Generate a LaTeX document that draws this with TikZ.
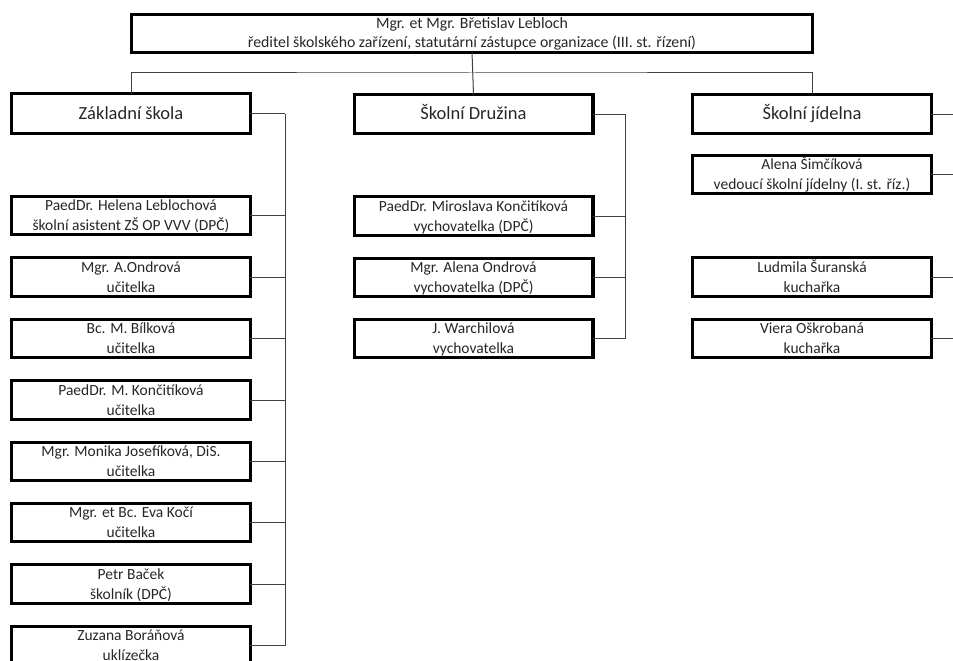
\documentclass[tikz,border=0pt]{standalone}
\usepackage{fontspec}
\setmainfont{Carlito}
\usepackage{tikz}
\tikzstyle{box}=[rectangle, draw=black, line width=3.2pt, minimum width=238.8pt, minimum height=38.5pt, inner sep=0pt, outer sep=0pt, align=center, text=black!85, text height=32pt, text depth=2pt, font=\fontsize{15.5}{20}\selectfont]
\tikzstyle{head}=[box, minimum height=39.5pt, text height=14pt, text depth=3pt, font=\fontsize{18.5}{22}\selectfont]
\tikzstyle{link}=[draw=black!75, line width=1pt]

\begin{document}
\begin{tikzpicture}[x=1pt, y=-1pt]
    \clip (0,0) rectangle (953,661);
    \node[box, minimum width=680.8pt, minimum height=37.8pt, text height=31pt, font=\fontsize{15.8}{19}\selectfont] (dir) at (472,33.5) {Mgr. et Mgr. Břetislav Lebloch\\ředitel školského zařízení, statutární zástupce organizace (III. st. řízení)};
    \node[head] (zs) at (131,113.5) {Základní škola};
    \node[head] (sd) at (473.5,114) {Školní Družina};
    \node[head] (sj) at (812,114) {Školní jídelna};
    \node[box] (z1) at (131,215.5) {PaedDr. Helena Leblochová\\školní asistent ZŠ OP VVV (DPČ)};
    \node[box] (z2) at (131,277) {Mgr. A.Ondrová\\učitelka};
    \node[box] (z3) at (131,338.5) {Bc. M. Bílková\\učitelka};
    \node[box] (z4) at (131,400) {PaedDr. M. Končitíková\\učitelka};
    \node[box] (z5) at (131,461.5) {Mgr. Monika Josefíková, DiS.\\učitelka};
    \node[box] (z6) at (131,522.5) {Mgr. et Bc. Eva Kočí\\učitelka};
    \node[box] (z7) at (131,584) {Petr Baček\\školník (DPČ)};
    \node[box] (z8) at (131,645.5) {Zuzana Boráňová\\uklízečka};
    \node[box] (d1) at (473.5,216) {PaedDr. Miroslava Končitíková\\vychovatelka (DPČ)};
    \node[box] (d2) at (473.5,277.5) {Mgr. Alena Ondrová\\vychovatelka (DPČ)};
    \node[box] (d3) at (473.5,338.5) {J. Warchilová\\vychovatelka};
    \node[box] (j1) at (812,174.5) {Alena Šimčíková\\vedoucí školní jídelny (I. st. říz.)};
    \node[box] (j2) at (812,277) {Ludmila Šuranská\\kuchařka};
    \node[box] (j3) at (812,338.5) {Viera Oškrobaná\\kuchařka};
    \coordinate (bus) at (472,73);
    \coordinate (railZ) at (285,0);
    \coordinate (railD) at (625,0);
    \coordinate (railJ) at (965,0);
    \draw[link] (dir.south) -- (sd.north);
    \draw[link] (zs.north) |- (bus) -| (sj.north);
    \foreach \from/\rail in
      {zs/railZ, z1/railZ, z2/railZ, z3/railZ, z4/railZ, z5/railZ, z6/railZ, z7/railZ, z8/railZ,
       sd/railD, d1/railD, d2/railD, d3/railD, sj/railJ, j1/railJ, j2/railJ, j3/railJ}
    \draw[link] (\from.east) -- (\from.east -| \rail);
    \draw[link] (zs.east -| railZ) -- (z8.east -| railZ);
    \draw[link] (sd.east -| railD) -- (d3.east -| railD);
    \draw[link] (sj.east -| railJ) -- (j3.east -| railJ);
\end{tikzpicture}
\end{document}
